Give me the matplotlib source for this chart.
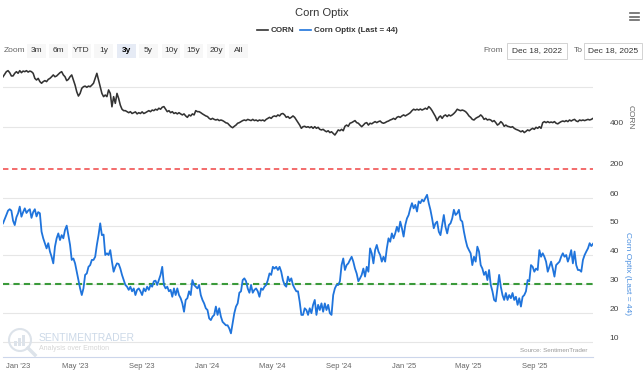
import pandas as pd
import matplotlib
matplotlib.use('Agg')
import matplotlib.pyplot as plt
import matplotlib.dates as mdates
from matplotlib.patches import Rectangle, Ellipse
from matplotlib.lines import Line2D
from matplotlib.transforms import ScaledTranslation

# Data (3y window, Dec 18 2022 -> Dec 18 2025)
start_date = '2022-12-18'
end_date = '2025-12-18'

corn = [
    649, 662, 674, 679, 669, 653, 653, 666, 674, 666, 679, 669, 677, 674, 679, 672, 677, 674, 666,
    641, 633, 641, 625, 617, 625, 630, 625, 636, 641, 649, 658, 649, 653, 661, 669, 674, 658, 649,
    630, 636, 649, 658, 633, 608, 575, 554, 567, 592, 600, 603, 597, 603, 600, 608, 617, 641, 666,
    633, 600, 567, 551, 559, 551, 584, 567, 501, 551, 518, 567, 542, 509, 489, 482, 482, 477, 472,
    477, 468, 472, 476, 466, 472, 468, 476, 468, 472, 477, 482, 477, 485, 482, 489, 485, 494, 489,
    499, 502, 489, 477, 482, 472, 477, 468, 472, 466, 472, 466, 461, 466, 456, 449, 461, 456, 466,
    461, 482, 477, 477, 472, 466, 461, 456, 453, 444, 439, 444, 439, 436, 439, 433, 436, 433, 428,
    422, 420, 411, 403, 398, 405, 411, 420, 423, 428, 433, 436, 433, 439, 436, 433, 439, 433, 436,
    431, 436, 433, 436, 431, 439, 444, 449, 444, 453, 456, 453, 461, 456, 466, 468, 461, 449, 453,
    444, 449, 456, 449, 436, 422, 411, 395, 403, 405, 400, 403,
    398, 403, 395, 403, 395, 400, 390, 387, 390, 383, 378, 383, 374, 378, 370, 362, 374, 387, 383,
    390, 383, 405, 411, 405, 420, 423, 428, 433, 423, 420, 411, 403, 411, 420, 423, 411, 420, 417,
    423, 428, 423, 428, 431, 423, 420, 423, 428, 431, 436, 439, 444, 439, 449, 453, 449, 456, 461,
    456, 461, 466, 472, 482, 489, 485, 489, 485, 490, 485, 489, 494, 489, 502, 494, 482, 468, 453,
    433, 449, 456, 444, 456, 461, 453, 461, 456, 461, 468, 477, 489, 485, 482, 485, 482, 477, 468,
    456, 449, 439, 436, 444, 449, 453, 461, 453, 439, 444, 436, 439, 436, 428, 433, 423, 411, 417,
    428, 420, 405, 411, 405, 403, 400, 403, 395, 390, 387, 383, 378, 383, 374, 380, 387, 383, 390,
    395, 390, 400, 395, 403, 395, 423, 428, 423, 428, 423, 426, 423, 428, 420, 417, 423, 428, 431,
    428, 433, 428, 436, 431, 436, 439, 431, 428, 436, 433, 436, 433, 436, 439, 436, 439, 444,
]

optix = [
    51.1, 52.5, 54, 55.5, 56, 55.5, 52, 50.5, 53.2, 54.6, 56.9, 53.4, 55, 56.3, 54.7, 55.5, 56, 53,
    55, 56, 53.5, 55, 54.6, 48.2, 45.9, 44.2, 42.4, 44.2, 41.3, 39.5, 37.2, 43, 45.9, 47.6, 45.3,
    47, 45.9, 48.8, 50.3, 47, 43.6, 38.4, 38.9, 37.2, 34.3, 31.4, 28.5, 26.2, 28.5, 33.2, 33.7, 36,
    36.6, 38.4, 38.4, 39.5, 43.6, 47, 51.1, 47, 47.2, 40.1, 40.7, 40.1, 41.8, 37.8, 34.3, 36, 37.2,
    37, 35.4, 33.2, 31.4, 29.7, 29.1, 28, 29.1, 27.5, 28.5, 26.2, 28, 28.5, 27.5, 26.2, 28.5, 27.5,
    29.1, 28, 29.7, 29.1, 31,
    31.2, 29.7, 31.4, 33.2, 36, 29.7, 28.5, 29.1, 27.5, 28, 25.6, 28.5, 26.2, 28.5, 26.2, 25.1,
    23.3, 20.4, 24.5, 25.1, 27.5, 26.2, 31.4, 29.7, 29.1, 28.5, 29.7, 26.2, 24.5, 23.3, 21.6, 21,
    18.1, 17.5, 18.7, 19.3, 22.2, 19.3, 21.6, 18.7, 16.9, 16.3, 15.7, 15.7, 14.6, 12.9, 16.3, 19.9,
    22.2, 23.3, 27, 27.5, 31.4, 32, 31, 28.5, 27, 29.7, 27, 28, 28.5, 27.5, 25.6, 28.5, 28, 29.1,
    29.7, 31.4, 33.7, 33.2, 36, 35.4, 36, 34.9, 36, 34.3, 31.4, 29.7, 29.1, 32.6, 31, 32, 29.7,
    28.5, 27.5, 27.5, 23.9, 19.3, 19.3, 21.6,
    21, 19.3, 21.6, 19.9, 22.8, 24.5, 19.3, 22.8, 21, 23.3, 20.4, 23.3, 21, 22.8, 19.9, 19.3, 26.2,
    28.5, 29.7, 29.7, 31, 36.6, 38.9, 34.9, 36.6, 37.2, 38.4, 39.5, 37.8, 35.4, 33.7, 31, 32, 33.2,
    35.4, 32.6, 36, 34.3, 42.4, 40.7, 37.2, 41.8, 43.6, 41.3, 40.1, 37.8, 39.5, 37.8, 42.4, 45.9,
    44.7, 47.6, 45.9, 47.6, 49.9, 48.2, 51.7, 49.4, 46.5, 50.5, 52.8, 54, 56.3, 58.1, 56.3, 57.5,
    55.2, 58.7, 58.1, 59.3, 58.7, 59.9, 61, 58.1, 55.8, 52.8, 49.4, 51.1, 51.7, 48.2, 47, 50.5, 54,
    49.9, 47.6, 50.5, 51.1, 52.8, 55.8, 54,
    54.6, 55.8, 52.3, 51.7, 48.2, 45.3, 43, 41.8, 40.7, 36.6, 39.5, 37.8, 43, 41.3, 36.6, 35.4,
    33.2, 34.3, 31.4, 34.9, 29.7, 27.5, 24.5, 24, 28.5, 33.2, 29.1, 26.2, 24.5, 26.9, 24.5, 26.2,
    25.1, 26.9, 24.5, 25.6, 22.8, 25.1, 22.2, 25.6, 26.2, 27.5, 31.4, 31, 36.6, 36, 34.3, 35.4,
    34.9, 41.8, 39.5, 40.7, 39.5, 37.8, 34.3, 36, 37.8, 35.4, 32.6, 36.6, 37.2, 37.8, 39.5, 40.7,
    39.5, 40.1, 37.8, 39.5, 41.8, 37.2, 41.3, 36.6, 34.9, 34.9, 34.3, 38.4, 40.1, 41.3, 42.4, 44.2,
    43.2, 44,
]

optix_upper = 70
optix_lower = 30
optix_last = 44

corn_ticks = [200, 400, 600]
corn_tick_labels = ['200', '400', '']
optix_ticks = [10, 20, 30, 40, 50, 60]

zoom_buttons = ['3m', '6m', 'YTD', '1y', '3y', '5y', '10y', '15y', '20y', 'All']
selected_button = '3y'
from_text = 'Dec 18, 2022'
to_text = 'Dec 18, 2025'

W, H = 644, 374


def fx(px):
    return px / W


def fy(py):
    return 1 - py / H


def main():
    plt.rcParams['font.family'] = ['Liberation Sans', 'DejaVu Sans']

    corn_dates = pd.date_range(start_date, end_date, periods=len(corn))
    optix_dates = pd.date_range(start_date, end_date, periods=len(optix))

    fig = plt.figure(figsize=(W / 100, H / 100), dpi=100)
    left, right = 3, 593

    # lower pane: Optix
    ax_bot = fig.add_axes([fx(left), fy(357), (right - left) / W, 197 / H])
    # upper pane: CORN (overlaps a little, transparent)
    ax_top = fig.add_axes([fx(left), fy(170), (right - left) / W, 110 / H], sharex=ax_bot)
    ax_top.patch.set_alpha(0)

    # pixel calibration of the two y scales
    def corn_at(py):
        return 400 + (127.3 - py) * 200 / 40.6

    def optix_at(py):
        return 60 - (py - 197.7) * 50 / 144

    ax_top.plot(corn_dates, corn, color='#333333', lw=1.15)
    ax_top.set_ylim(corn_at(170), corn_at(60))
    ax_top.set_yticks(corn_ticks)
    ax_top.set_yticklabels(corn_tick_labels)

    ax_bot.plot(optix_dates, optix, color='#1f74dc', lw=1.3, zorder=3)
    ax_bot.axhline(optix_upper, color='#f26060', lw=1.3, ls=(0, (3, 2)), zorder=2)
    ax_bot.axhline(optix_lower, color='#3a9a3a', lw=1.5, ls=(0, (3, 2)), zorder=2)
    ax_bot.set_ylim(optix_at(357), optix_at(160))
    ax_bot.set_yticks(optix_ticks)

    for ax in (ax_top, ax_bot):
        ax.yaxis.tick_right()
        ax.tick_params(axis='y', length=0, pad=12, labelsize=6, labelcolor='#444444')
        plt.setp(ax.get_yticklabels(), va='bottom')
        ax.grid(axis='y', color='#e6e6e6', lw=0.8)
        ax.set_axisbelow(True)
        for s in ax.spines.values():
            s.set_visible(False)

    # the 200 gridline sits under the red threshold line
    ax_top.yaxis.get_major_ticks()[0].gridline.set_visible(False)

    ax_bot.spines['bottom'].set_visible(True)
    ax_bot.spines['bottom'].set_color('#ccd6eb')
    ax_bot.spines['bottom'].set_linewidth(0.8)

    ax_bot.set_xlim(pd.Timestamp(start_date), pd.Timestamp(end_date))
    ax_bot.xaxis.set_major_locator(mdates.MonthLocator(bymonth=[1, 5, 9]))
    ax_bot.xaxis.set_major_formatter(mdates.DateFormatter("%b '%y"))
    ax_bot.tick_params(axis='x', length=0, pad=4, labelsize=5.5, labelcolor='#666666')
    ax_top.tick_params(axis='x', length=0, labelbottom=False)

    # keep the first date label inside the figure
    fig.canvas.draw()
    first = ax_bot.xaxis.get_major_ticks()[0].label1
    first.set_ha('left')
    first.set_transform(first.get_transform() + ScaledTranslation(-5 / 100, 0, fig.dpi_scale_trans))

    # right-hand axis titles
    fig.text(fx(630), fy(117), 'CORN', rotation=270, ha='center', va='center',
             fontsize=6, color='#666666')
    fig.text(fx(628), fy(273), f'Corn Optix (Last = {optix_last})', rotation=270,
             ha='center', va='center', fontsize=6, color='#4a8fe0')

    # title and legend
    fig.text(fx(322), fy(13), 'Corn Optix', ha='center', va='center', fontsize=8, color='#333333')
    fig.add_artist(Line2D([fx(257), fx(268)], [fy(30), fy(30)], color='#333333', lw=1.2))
    fig.text(fx(271), fy(30), 'CORN', va='center', fontsize=5.8, fontweight='bold', color='#333333')
    fig.add_artist(Line2D([fx(300), fx(311)], [fy(30), fy(30)], color='#1f74dc', lw=1.2))
    fig.text(fx(314), fy(30), f'Corn Optix (Last = {optix_last})', va='center', fontsize=5.8,
             fontweight='bold', color='#333333')

    # hamburger menu
    for yy in (13, 16.5, 20):
        fig.add_artist(Line2D([fx(630), fx(639)], [fy(yy), fy(yy)], color='#666666', lw=1.2))

    # range selector
    fig.text(fx(4), fy(51), 'Zoom', va='center', fontsize=6, color='#666666')
    for i, lab in enumerate(zoom_buttons):
        cx = 36 + 22.5 * i
        sel = lab == selected_button
        fig.add_artist(Rectangle((fx(cx - 9.5), fy(58)), 19 / W, 14 / H, transform=fig.transFigure,
                                 facecolor='#e6ebf5' if sel else '#f7f7f7', edgecolor='none'))
        fig.text(fx(cx), fy(51), lab, ha='center', va='center', fontsize=6,
                 color='#000000' if sel else '#333333', fontweight='bold' if sel else 'normal')

    fig.text(fx(503), fy(51), 'From', ha='right', va='center', fontsize=6, color='#666666')
    fig.add_artist(Rectangle((fx(507), fy(59)), 60 / W, 16 / H, transform=fig.transFigure,
                             facecolor='white', edgecolor='#cccccc', lw=0.6))
    fig.text(fx(537), fy(51), from_text, ha='center', va='center', fontsize=6, color='#333333')
    fig.text(fx(578), fy(51), 'To', ha='center', va='center', fontsize=6, color='#666666')
    fig.add_artist(Rectangle((fx(584), fy(59)), 58 / W, 16 / H, transform=fig.transFigure,
                             facecolor='white', edgecolor='#cccccc', lw=0.6))
    fig.text(fx(613), fy(51), to_text, ha='center', va='center', fontsize=6, color='#333333')

    # watermark
    fig.add_artist(Ellipse((fx(20), fy(340)), 22 / W, 22 / H, transform=fig.transFigure,
                           facecolor='none', edgecolor='#dde3ea', lw=1.5))
    for k, hgt in enumerate([5, 8, 11]):
        fig.add_artist(Rectangle((fx(14 + 4 * k), fy(346)), 3 / W, hgt / H, transform=fig.transFigure,
                                 facecolor='#dde3ea', edgecolor='none'))
    fig.add_artist(Line2D([fx(28), fx(35)], [fy(348), fy(355)], color='#dde3ea', lw=2.5))
    fig.text(fx(39), fy(338), 'SENTIMENTRADER', va='center', fontsize=7.5, color='#ccd9e8')
    fig.text(fx(39), fy(348), 'Analysis over Emotion', va='center', fontsize=5, color='#d6d6d6')
    fig.text(fx(587), fy(350), 'Source: SentimenTrader', ha='right', va='center', fontsize=4.5,
             color='#999999')

    fig.savefig('out.png', dpi=100)


if __name__ == '__main__':
    main()
